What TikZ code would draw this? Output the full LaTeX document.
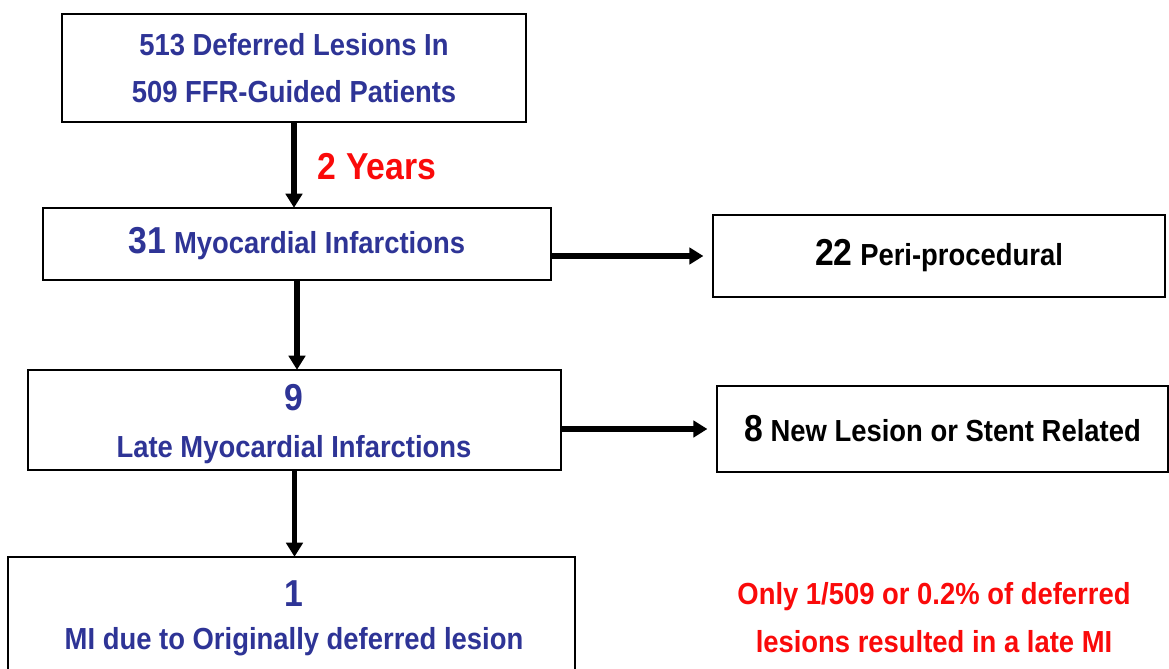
\documentclass[tikz,border=0pt]{standalone}
\usepackage{fontspec}
\setmainfont{Liberation Sans}
\newfontfamily\cond[FakeStretch=0.9]{Liberation Sans}
\usetikzlibrary{calc}
\usetikzlibrary{arrows.meta}
\definecolor{navy}{RGB}{46,52,150}
\definecolor{alert}{RGB}{250,10,10}

\tikzset{
  box/.style={draw=black,line width=2.4pt,fill=white,align=center,inner sep=0pt,
    font=\cond\bfseries\fontsize{26}{40}\selectfont},
  arr/.style={line width=4.5pt,-{Triangle[length=12pt,width=14pt]},shorten >=-1pt},
  big/.style={font=\cond\bfseries\fontsize{32}{40}\selectfont}
}
\newcommand{\num}[1]{{\fontsize{32}{40}\selectfont #1}}

\begin{document}
\begin{tikzpicture}[x=0.03cm,y=-0.03cm]

\useasboundingbox (0,0) rectangle (1169,669);

\node[box,text=navy,minimum width=13.92cm,minimum height=3.24cm] (b1) at (294,68)
  {513 Deferred Lesions In\\509 FFR-Guided Patients};
\node[box,text=navy,minimum width=15.24cm,minimum height=2.16cm] (b2) at (297,244)
  {\num{31} Myocardial Infarctions};
\node[box,minimum width=13.56cm,minimum height=2.46cm] (b3) at (939,256)
  {\num{22} Peri-procedural};
\node[box,minimum width=15.99cm,minimum height=3.0cm] (b4) at (294.5,420) {};
\node[text=navy,font=\cond\bfseries\fontsize{32}{40}\selectfont] (n4) at (294,398) {9};
\node[text=navy,font=\cond\bfseries\fontsize{26}{40}\selectfont] (t4) at (294,450)
  {Late Myocardial Infarctions};
\node[box,minimum width=13.53cm,minimum height=2.58cm] (b5) at (942.5,429)
  {\num{8} New Lesion or Stent Related};
\begin{scope}
\clip (0,0) rectangle (1169,669);
\node[box,minimum width=17.01cm,minimum height=4.38cm] (b6) at (291.5,630) {};
\end{scope}
\node[text=navy,font=\cond\bfseries\fontsize{32}{40}\selectfont] (n6) at (294,594) {1};
\node[text=navy,font=\cond\bfseries\fontsize{26}{40}\selectfont] (t6) at (294,642)
  {MI due to Originally deferred lesion};

\node[text=alert,font=\cond\bfseries\fontsize{32}{40}\selectfont] (yrs) at (377,167) {2 Years};
\node[text=alert,align=center,font=\cond\bfseries\fontsize{26}{41}\selectfont] (note) at (934,618)
  {Only 1/509 or 0.2\% of deferred\\lesions resulted in a late MI};

\draw[arr] (b1.south) -- (b1.south |- b2.north);
\draw[arr] (b2.south) -- (b2.south |- b4.north);
\draw[arr] (b4.south) -- (b4.south |- b6.north);
\draw[arr,shorten >=7pt] (b3.west -| b2.east) -- (b3.west);
\draw[arr,shorten >=7pt] (b5.west -| b4.east) -- (b5.west);

\end{tikzpicture}
\end{document}
